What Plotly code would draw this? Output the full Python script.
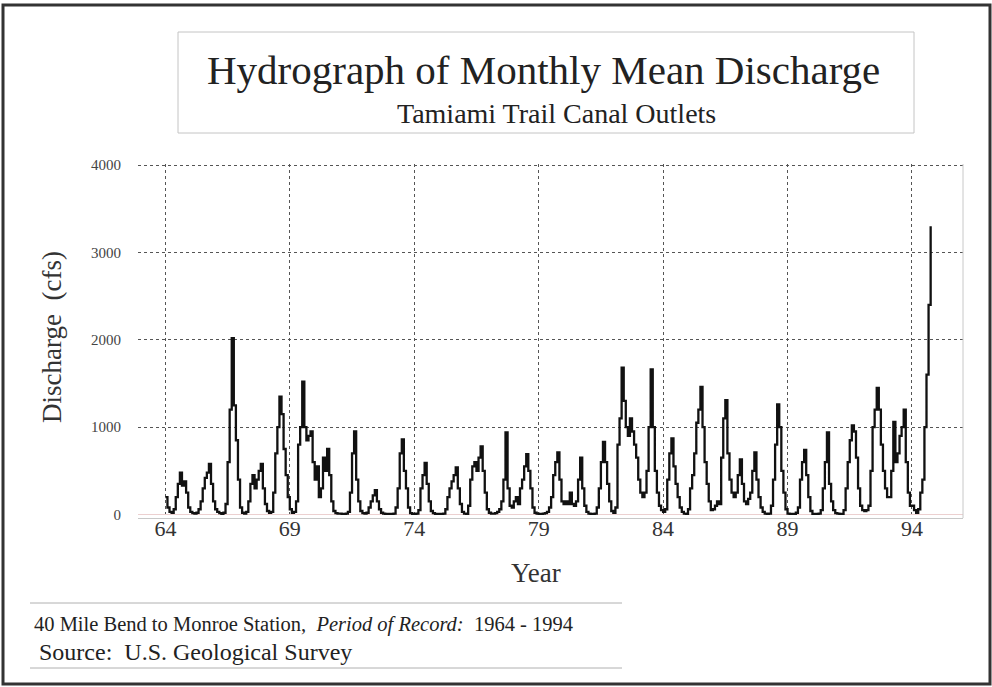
import plotly.graph_objects as go

years = list(range(64, 95))
q1964 = [200, 80, 30, 20, 60, 200, 350, 480, 330, 380, 250, 80]
q1965 = [30, 15, 10, 20, 60, 150, 300, 420, 480, 580, 350, 150]
q1966 = [60, 30, 15, 8, 20, 120, 600, 1200, 2020, 1250, 850, 400]
q1967 = [80, 20, 10, 30, 150, 350, 450, 300, 400, 500, 580, 300]
q1968 = [120, 40, 20, 30, 250, 700, 1000, 1350, 1150, 750, 450, 200]
q1969 = [60, 20, 30, 150, 800, 1000, 1520, 1000, 850, 900, 950, 600]
q1970 = [400, 550, 200, 300, 650, 500, 750, 450, 150, 40, 15, 10]
q1971 = [10, 8, 8, 10, 30, 250, 700, 950, 400, 150, 40, 15]
q1972 = [10, 20, 80, 150, 220, 280, 150, 60, 20, 10, 8, 8]
q1973 = [8, 8, 10, 80, 300, 700, 860, 500, 300, 80, 15, 8]
q1974 = [8, 10, 50, 300, 450, 590, 350, 150, 40, 15, 8, 8]
q1975 = [8, 8, 10, 60, 200, 300, 380, 450, 540, 300, 120, 30]
q1976 = [10, 8, 100, 400, 550, 600, 500, 650, 780, 500, 250, 60]
q1977 = [20, 10, 10, 15, 30, 60, 150, 400, 940, 300, 100, 80]
q1978 = [150, 200, 120, 300, 400, 550, 690, 500, 300, 80, 20, 10]
q1979 = [8, 8, 10, 15, 30, 80, 200, 450, 600, 710, 400, 150]
q1980 = [120, 150, 120, 250, 120, 100, 150, 400, 650, 300, 100, 30]
q1981 = [10, 8, 8, 10, 80, 300, 600, 830, 600, 350, 150, 40]
q1982 = [20, 80, 800, 1100, 1680, 1300, 1000, 900, 1100, 950, 800, 650]
q1983 = [400, 250, 200, 250, 500, 1000, 1660, 1000, 500, 250, 100, 50]
q1984 = [30, 60, 400, 700, 870, 550, 350, 200, 80, 30, 10, 8]
q1985 = [60, 300, 450, 700, 1050, 1200, 1460, 1000, 600, 350, 150, 50]
q1986 = [60, 100, 150, 120, 650, 1100, 1310, 700, 400, 250, 200, 250]
q1987 = [450, 630, 350, 150, 120, 180, 250, 500, 710, 400, 200, 80]
q1988 = [30, 10, 8, 10, 100, 400, 800, 1260, 1000, 500, 250, 60]
q1989 = [10, 8, 8, 8, 20, 80, 400, 600, 740, 450, 200, 40]
q1990 = [8, 8, 8, 10, 50, 300, 600, 940, 350, 150, 50, 15]
q1991 = [10, 8, 8, 50, 300, 600, 850, 1020, 950, 650, 300, 100]
q1992 = [50, 40, 50, 100, 500, 1000, 1200, 1450, 1200, 800, 500, 300]
q1993 = [200, 200, 500, 1060, 600, 700, 900, 1000, 1200, 600, 250, 100]
q1994 = [100, 50, 20, 60, 250, 400, 1000, 1600, 2400, 3300]

yearly = [q1964, q1965, q1966, q1967, q1968, q1969, q1970, q1971, q1972, q1973,
          q1974, q1975, q1976, q1977, q1978, q1979, q1980, q1981, q1982, q1983,
          q1984, q1985, q1986, q1987, q1988, q1989, q1990, q1991, q1992, q1993,
          q1994]

tick_years = [64, 69, 74, 79, 84, 89, 94]
tick_q = [0, 1000, 2000, 3000, 4000]

W, H = 992, 687
FONT = "Liberation Serif, Times New Roman, serif"


def px(x):
    return x / W


def py(y):
    return 1 - y / H


x = []
q = []
for yr, vals in zip(years, yearly):
    for m, v in enumerate(vals):
        x.append(yr + m / 12)
        q.append(v)

fig = go.Figure(go.Scatter(
    x=x, y=q, mode="lines",
    line=dict(color="#111111", width=2.3, shape="hv"),
    showlegend=False,
))

grid = dict(showgrid=True, gridcolor="#555555", griddash="dot", gridwidth=1.3)

fig.update_layout(
    width=W, height=H,
    margin=dict(l=0, r=0, t=0, b=0),
    paper_bgcolor="white", plot_bgcolor="white",
    font=dict(family=FONT, color="#222222"),
    xaxis=dict(
        domain=[px(138), px(963)], range=[62.9, 96.05],
        tickvals=tick_years, ticktext=[str(t) for t in tick_years],
        tickfont=dict(size=22, color="#333333"), ticks="",
        showline=True, linecolor="#c8c8c8", linewidth=1,
        zeroline=False, automargin=False, ticklabelstandoff=-9,
        **grid,
    ),
    yaxis=dict(
        domain=[py(518), py(164)], range=[-40, 4012],
        tickvals=tick_q, tickfont=dict(size=15, color="#444444"), ticks="",
        zeroline=True, zerolinecolor="#ecd0d0", zerolinewidth=1,
        showline=False, automargin=False, ticklabelstandoff=16,
        **grid,
    ),
)

shapes = [
    # outer frame of the scan
    dict(type="rect", xref="paper", yref="paper", x0=px(3), x1=px(990), y0=py(684), y1=py(5),
         line=dict(color="#333333", width=3)),
    # title box
    dict(type="rect", xref="paper", yref="paper", x0=px(178), x1=px(914), y0=py(133), y1=py(32),
         line=dict(color="#c4c4c4", width=1)),
    # right edge of the plot frame
    dict(type="line", xref="paper", yref="paper", x0=px(963), x1=px(963), y0=py(518), y1=py(164),
         line=dict(color="#c8c8c8", width=1)),
    # footer rules
    dict(type="line", xref="paper", yref="paper", x0=px(30), x1=px(622), y0=py(603), y1=py(603),
         line=dict(color="#b0b0b0", width=1)),
    dict(type="line", xref="paper", yref="paper", x0=px(30), x1=px(622), y0=py(668), y1=py(668),
         line=dict(color="#b0b0b0", width=1)),
]
fig.update_layout(shapes=shapes)

nb = "\u00a0"
annotations = [
    dict(text="Hydrograph of Monthly Mean Discharge", x=px(543), y=py(70),
         font=dict(size=41, color="#222222")),
    dict(text="Tamiami Trail Canal Outlets", x=px(556), y=py(113),
         font=dict(size=28, color="#222222")),
    dict(text="Discharge" + nb * 2 + "(cfs)", x=px(52), y=py(337), textangle=-90,
         font=dict(size=27, color="#333333")),
    dict(text="Year", x=px(536), y=py(573), font=dict(size=27, color="#333333")),
    dict(text="40 Mile Bend to Monroe Station," + nb * 2 + "<i>Period of Record:</i>" + nb * 2
              + "1964 - 1994",
         x=px(32), y=py(624), xanchor="left", font=dict(size=20.5, color="#222222")),
    dict(text="Source:" + nb * 2 + "U.S. Geological Survey", x=px(37), y=py(652), xanchor="left",
         font=dict(size=24, color="#222222")),
]
for a in annotations:
    a.setdefault("xanchor", "center")
    a.update(xref="paper", yref="paper", yanchor="middle", showarrow=False)
fig.update_layout(annotations=annotations)

# the page has a default 8px body margin; drop it so the figure fills the window
fig.write_html("out.html", config={"displayModeBar": False},
               post_script="document.body.style.margin='0';")
